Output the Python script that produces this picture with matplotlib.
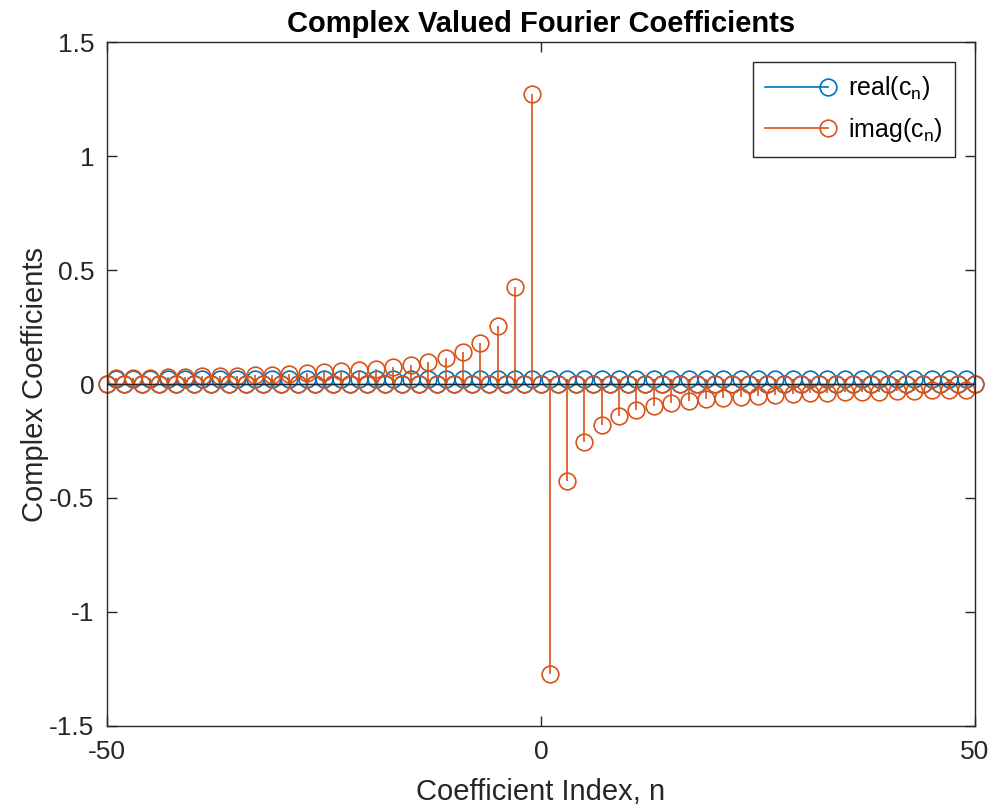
import matplotlib
matplotlib.use("Agg")
import matplotlib.pyplot as plt
from matplotlib.lines import Line2D
from matplotlib.legend_handler import HandlerBase
import numpy as np

plt.rcParams['font.family'] = ['Liberation Sans', 'DejaVu Sans']
plt.rcParams['mathtext.fontset'] = 'custom'
plt.rcParams['mathtext.rm'] = 'Liberation Sans'
plt.rcParams['mathtext.it'] = 'Liberation Sans:italic'
plt.rcParams['axes.unicode_minus'] = False

# coefficient index n = -50 ... 50
n = np.arange(-50, 51)

# real part: small constant on odd n, zero on even n
real_cn = [
    0, 0.02, 0, 0.02, 0, 0.02, 0, 0.02, 0, 0.02,
    0, 0.02, 0, 0.02, 0, 0.02, 0, 0.02, 0, 0.02,
    0, 0.02, 0, 0.02, 0, 0.02, 0, 0.02, 0, 0.02,
    0, 0.02, 0, 0.02, 0, 0.02, 0, 0.02, 0, 0.02,
    0, 0.02, 0, 0.02, 0, 0.02, 0, 0.02, 0, 0.02,
    0,
    0.02, 0, 0.02, 0, 0.02, 0, 0.02, 0, 0.02, 0,
    0.02, 0, 0.02, 0, 0.02, 0, 0.02, 0, 0.02, 0,
    0.02, 0, 0.02, 0, 0.02, 0, 0.02, 0, 0.02, 0,
    0.02, 0, 0.02, 0, 0.02, 0, 0.02, 0, 0.02, 0,
    0.02, 0, 0.02, 0, 0.02, 0, 0.02, 0, 0.02, 0,
]

# imaginary part, n = -50 ... -1
imag_neg = [
    0, 0.026, 0, 0.027, 0, 0.028, 0, 0.030, 0, 0.031,
    0, 0.033, 0, 0.034, 0, 0.036, 0, 0.039, 0, 0.041,
    0, 0.044, 0, 0.047, 0, 0.051, 0, 0.055, 0, 0.061,
    0, 0.067, 0, 0.075, 0, 0.085, 0, 0.098, 0, 0.116,
    0, 0.141, 0, 0.182, 0, 0.255, 0, 0.424, 0, 1.273,
]
# n = 0
imag_zero = [0]
# n = 1 ... 50
imag_pos = [
    -1.273, 0, -0.424, 0, -0.255, 0, -0.182, 0, -0.141, 0,
    -0.116, 0, -0.098, 0, -0.085, 0, -0.075, 0, -0.067, 0,
    -0.061, 0, -0.055, 0, -0.051, 0, -0.047, 0, -0.044, 0,
    -0.041, 0, -0.039, 0, -0.036, 0, -0.034, 0, -0.033, 0,
    -0.031, 0, -0.030, 0, -0.028, 0, -0.027, 0, -0.026, 0,
]
imag_cn = imag_neg + imag_zero + imag_pos

blue = '#0072BD'
orange = '#D95319'
dark = '#262626'

fig = plt.figure(figsize=(9.88, 8.08), dpi=100)
ax = fig.add_axes([0.1083, 0.1015, 0.8785, 0.8465])

for vals, col in [(real_cn, blue), (imag_cn, orange)]:
    ml, sl, bl = ax.stem(n, vals)
    ml.set_color(col)
    ml.set_markerfacecolor('none')
    ml.set_markersize(12)
    ml.set_markeredgewidth(1.2)
    ml.set_clip_on(False)
    sl.set_color(col)
    sl.set_linewidth(1.2)
    bl.set_color(dark)
    bl.set_linewidth(1.0)


class StemHandler(HandlerBase):
    def create_artists(self, legend, orig_handle, xdescent, ydescent,
                       width, height, fontsize, trans):
        col = orig_handle.get_color()
        y = height / 2 - ydescent
        line = Line2D([-xdescent, width - xdescent], [y, y], color=col, lw=1.2)
        mark = Line2D([width - xdescent], [y], marker='o', ms=12,
                      mfc='none', mec=col, mew=1.2, ls='none')
        line.set_transform(trans)
        mark.set_transform(trans)
        return [line, mark]


h1 = Line2D([], [], color=blue)
h2 = Line2D([], [], color=orange)
leg = ax.legend([h1, h2], ['real(c$_\\mathrm{n}$)', 'imag(c$_\\mathrm{n}$)'],
                handler_map={Line2D: StemHandler()},
                loc='upper right', bbox_to_anchor=(0.977, 0.971),
                fontsize=18, handlelength=2.5, handletextpad=0.8,
                borderpad=0.5, labelspacing=0.55, borderaxespad=0,
                fancybox=False, edgecolor=dark, framealpha=1)
leg.get_frame().set_linewidth(1.0)

ax.set_xlim(-50, 50)
ax.set_ylim(-1.5, 1.5)
ax.set_xticks([-50, 0, 50])
ax.set_yticks([-1.5, -1, -0.5, 0, 0.5, 1, 1.5])
ax.set_yticklabels(['-1.5', '-1', '-0.5', '0', '0.5', '1', '1.5'])
ax.tick_params(direction='in', top=True, right=True, length=7,
               width=1.0, labelsize=19, colors=dark)
ax.tick_params(axis='x', pad=10)
ax.tick_params(axis='y', pad=9)
for sp in ax.spines.values():
    sp.set_color(dark)
    sp.set_linewidth(1.0)

ax.set_xlabel('Coefficient Index, n', fontsize=21, color=dark, labelpad=10)
ax.set_ylabel('Complex Coefficients', fontsize=21, color=dark, labelpad=0)
ax.set_title('Complex Valued Fourier Coefficients', fontsize=21,
             fontweight='bold', pad=7)

fig.savefig('out.png', dpi=100)
